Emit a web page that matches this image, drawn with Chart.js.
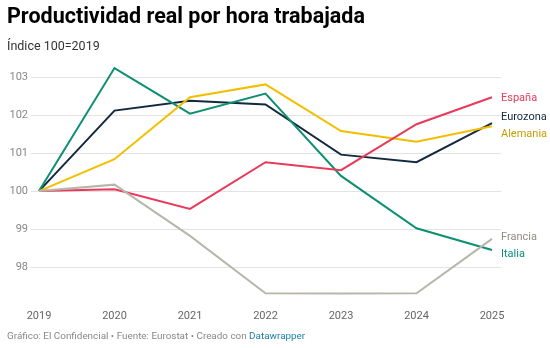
<!DOCTYPE html>
<html lang="es">
<head>
<meta charset="UTF-8">
<title>Productividad real por hora trabajada</title>
<script src="https://cdn.jsdelivr.net/npm/chart.js@4.4.1/dist/chart.umd.min.js"></script>
<style>
    body { margin: 0; background: #fff; font-family: Roboto, Arial, sans-serif; }
    .wrap { position: relative; width: 550px; height: 348px; }
    canvas { position: absolute; left: 0; top: 0; }
    .title { position: absolute; left: 7px; top: 3px; font-size: 21.5px; font-weight: 700; color: #000; }
    .sub { position: absolute; left: 7px; top: 38px; font-size: 12.5px; color: #333; }
    .foot { position: absolute; left: 7px; top: 330px; font-size: 9.9px; color: #888; }
    .foot span { color: #1d81a2; }
</style>
</head>
<body>
<div class="wrap">
    <canvas id="chart" width="550" height="348"></canvas>
    <div class="title">Productividad real por hora trabajada</div>
    <div class="sub">Índice 100=2019</div>
    <div class="foot">Gráfico: El Confidencial • Fuente: Eurostat • Creado con <span>Datawrapper</span></div>
</div>
<script>
const years = ['2019', '2020', '2021', '2022', '2023', '2024', '2025'];
const yTicks = [98, 99, 100, 101, 102, 103];

const espana   = [100, 100.05, 99.53, 100.76, 100.55, 101.76, 102.47];
const eurozona = [100, 102.12, 102.38, 102.28, 100.96, 100.76, 101.79];
const alemania = [100, 100.84, 102.47, 102.81, 101.58, 101.30, 101.71];
const italia   = [100, 103.24, 102.04, 102.57, 100.40, 99.02, 98.45];
const francia  = [100, 100.17, 98.82, 97.31, 97.30, 97.31, 98.74];

const series = [
    { name: 'Francia',  data: francia,  color: '#b8b6ab', text: '#8f8c84' },
    { name: 'España',   data: espana,   color: '#e93a5a', text: '#e93a5a' },
    { name: 'Alemania', data: alemania, color: '#f1bf00', text: '#c79d00' },
    { name: 'Italia',   data: italia,   color: '#0d8f73', text: '#0d8f73' },
    { name: 'Eurozona', data: eurozona, color: '#13293f', text: '#13293f' }
];

// gridlines span a bit wider than the plot area, like datawrapper
const gridPlugin = {
    id: 'grid',
    beforeDatasetsDraw(chart) {
        const { ctx, scales: { y } } = chart;
        ctx.save();
        ctx.strokeStyle = '#e3e3e3';
        ctx.lineWidth = 1;
        yTicks.forEach(v => {
            const py = Math.round(y.getPixelForValue(v)) + 0.5;
            ctx.beginPath();
            ctx.moveTo(31, py);
            ctx.lineTo(501, py);
            ctx.stroke();
        });
        ctx.restore();
    }
};

// labels at the end of each line, pushed apart when too close
const endLabels = {
    id: 'endLabels',
    afterDatasetsDraw(chart) {
        const { ctx } = chart;
        const items = chart.data.datasets.map((ds, i) => {
            const pts = chart.getDatasetMeta(i).data;
            return { name: ds.label, color: series[i].text, y: pts[pts.length - 1].y };
        }).sort((a, b) => a.y - b.y);
        const gap = 17;
        for (let k = 0; k < 5; k++) {
            for (let i = 1; i < items.length; i++) {
                const d = items[i].y - items[i - 1].y;
                if (d < gap) {
                    const m = (gap - d) / 2;
                    items[i - 1].y -= m;
                    items[i].y += m;
                }
            }
        }
        ctx.save();
        ctx.font = '11px Roboto, Arial, sans-serif';
        ctx.textBaseline = 'middle';
        items.forEach(it => {
            ctx.fillStyle = it.color;
            ctx.fillText(it.name, 501, it.y + 1);
        });
        ctx.restore();
    }
};

new Chart(document.getElementById('chart'), {
    type: 'line',
    data: {
        labels: years,
        datasets: series.map(s => ({
            label: s.name,
            data: s.data,
            borderColor: s.color,
            borderWidth: 2,
            pointRadius: 0,
            tension: 0,
            fill: false
        }))
    },
    options: {
        responsive: false,
        animation: false,
        layout: { padding: { top: 62, right: 58, left: 0, bottom: 0 } },
        plugins: { legend: { display: false }, tooltip: { enabled: false } },
        scales: {
            x: {
                grid: { display: false },
                border: { display: false },
                ticks: { color: '#666', font: { family: 'Roboto', size: 11 }, padding: 4, maxRotation: 0 },
                afterFit(scale) { scale.height = 50.6; }
            },
            y: {
                min: 97.2,
                max: 103.4,
                grid: { display: false },
                border: { display: false },
                afterBuildTicks(scale) { scale.ticks = yTicks.map(v => ({ value: v })); },
                ticks: { color: '#888', font: { family: 'Roboto', size: 11 }, padding: 3 },
                afterFit(scale) { scale.width = 39; }
            }
        }
    },
    plugins: [gridPlugin, endLabels]
});
</script>
</body>
</html>
